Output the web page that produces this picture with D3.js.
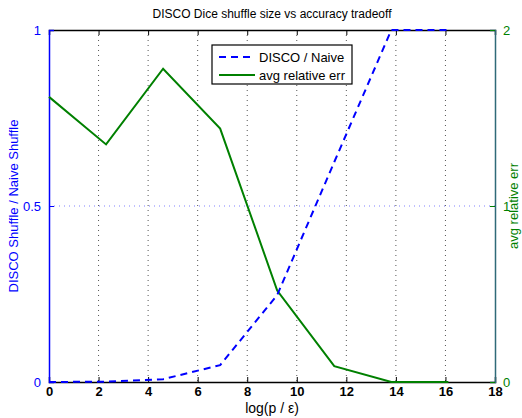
<!DOCTYPE html>
<html><head><meta charset="utf-8">
<script src="https://cdn.jsdelivr.net/npm/d3@7"></script>
<style>body{margin:0;background:#fff}svg{display:block;font-family:"Liberation Sans",Arial,sans-serif}</style>
</head><body><svg id="c" width="522" height="418"></svg>
<script>
const xVals = [0, 2.303, 4.605, 6.908, 9.210, 11.513, 13.816, 16.118];
const ratioVals = [0, 0.001, 0.008, 0.048, 0.247, 0.625, 1.0, 1.0];
const errVals = [1.62, 1.35, 1.78, 1.44, 0.52, 0.09, 0.0, 0.0];
const xTicks = [0, 2, 4, 6, 8, 10, 12, 14, 16, 18];
const leftTicks = [0, 0.5, 1];
const rightTicks = [0, 1, 2];
const title = "DISCO Dice shuffle size vs accuracy tradeoff";
const xLabel = "log(p / ε)";
const leftLabel = "DISCO Shuffle / Naive Shuffle";
const rightLabel = "avg relative err";
const seriesNames = ["DISCO / Naive", "avg relative err"];

const BLUE = "#0000ff", GREEN = "#008000";
const L = 49, R = 495, T = 30, B = 382;
const svg = d3.select("#c");
const x = d3.scaleLinear().domain([0, 18]).range([L, R]);
const yL = d3.scaleLinear().domain([0, 1]).range([B, T]);
const yR = d3.scaleLinear().domain([0, 2]).range([B, T]);

// vertical grid
svg.append("g").selectAll("line").data(xTicks.filter(t => t > 0 && t < 18)).join("line")
  .attr("x1", d => x(d)).attr("x2", d => x(d)).attr("y1", T).attr("y2", B)
  .attr("stroke", "#555").attr("stroke-width", 1).attr("stroke-dasharray", "1,4");
// horizontal grid at 0.5
svg.append("line").attr("x1", L).attr("x2", R).attr("y1", yL(0.5)).attr("y2", yL(0.5))
  .attr("stroke", "#8080ff").attr("stroke-width", 1).attr("stroke-dasharray", "1,4");

// bottom axis
const xAxis = d3.axisBottom(x).tickValues(xTicks).tickSize(-5).tickPadding(5).tickFormat(d3.format("d"));
const gx = svg.append("g").attr("transform", `translate(0,${B})`).call(xAxis);
gx.select(".domain").attr("stroke", "#000").attr("stroke-width", 1.5);
gx.selectAll(".tick line").attr("stroke", "#000");
gx.selectAll("text").attr("font-size", 13).attr("font-weight", "bold").attr("fill", "#000")
  .attr("font-family", "Liberation Sans, Arial, sans-serif");
// top border with ticks
const xTop = d3.axisTop(x).tickValues(xTicks).tickSize(-5).tickFormat("");
const gt = svg.append("g").attr("transform", `translate(0,${T})`).call(xTop);
gt.select(".domain").attr("stroke", "#000").attr("stroke-width", 1.5);
gt.selectAll(".tick line").attr("stroke", "#000");

// left axis
const gl = svg.append("g").attr("transform", `translate(${L},0)`)
  .call(d3.axisLeft(yL).tickValues(leftTicks).tickSize(-5).tickPadding(8).tickFormat(d => d === 0.5 ? "0.5" : d3.format("d")(d)));
gl.select(".domain").attr("stroke", BLUE).attr("stroke-width", 1.5);
gl.selectAll(".tick line").attr("stroke", BLUE);
gl.selectAll("text").attr("fill", BLUE).attr("font-size", 13).attr("font-family", "Liberation Sans, Arial, sans-serif");

// right axis
const gr = svg.append("g").attr("transform", `translate(${R},0)`)
  .call(d3.axisRight(yR).tickValues(rightTicks).tickSize(-5).tickPadding(8).tickFormat(d3.format("d")));
gr.select(".domain").attr("stroke", "#2f6a78").attr("stroke-width", 1.5);
gr.selectAll(".tick line").attr("stroke", GREEN);
gr.selectAll("text").attr("fill", GREEN).attr("font-size", 13).attr("font-family", "Liberation Sans, Arial, sans-serif");

// lines
const lineL = d3.line().x((d, i) => x(xVals[i])).y(d => yL(d));
const lineR = d3.line().x((d, i) => x(xVals[i])).y(d => yR(d));
svg.append("path").attr("d", lineR(errVals)).attr("fill", "none").attr("stroke", GREEN).attr("stroke-width", 2);
svg.append("path").attr("d", lineL(ratioVals)).attr("fill", "none").attr("stroke", BLUE).attr("stroke-width", 2)
  .attr("stroke-dasharray", "7,5");

// title & labels
svg.append("text").attr("x", 272).attr("y", 18).attr("text-anchor", "middle").attr("font-size", 12).attr("fill", "#000").text(title);
svg.append("text").attr("x", 272).attr("y", 413).attr("text-anchor", "middle").attr("font-size", 14).attr("fill", "#000").text(xLabel);
svg.append("text").attr("transform", `translate(17.5,${(T + B) / 2}) rotate(-90)`).attr("text-anchor", "middle")
  .attr("font-size", 13).attr("fill", BLUE).text(leftLabel);
svg.append("text").attr("transform", `translate(517.5,${(T + B) / 2}) rotate(-90)`).attr("text-anchor", "middle")
  .attr("font-size", 13).attr("fill", GREEN).text(rightLabel);

// legend
const lg = svg.append("g");
lg.append("rect").attr("x", 212).attr("y", 45).attr("width", 140).attr("height", 39)
  .attr("fill", "#fff").attr("stroke", "#000").attr("stroke-width", 1.2);
const rows = [{name: seriesNames[0], c: BLUE, dash: "7,5", y: 57}, {name: seriesNames[1], c: GREEN, dash: null, y: 75}];
rows.forEach(r => {
  lg.append("line").attr("x1", 219).attr("x2", 255).attr("y1", r.y).attr("y2", r.y)
    .attr("stroke", r.c).attr("stroke-width", 2).attr("stroke-dasharray", r.dash);
  lg.append("text").attr("x", 259).attr("y", r.y + 4.5).attr("font-size", 13).attr("fill", "#000").text(r.name);
});
</script></body></html>
